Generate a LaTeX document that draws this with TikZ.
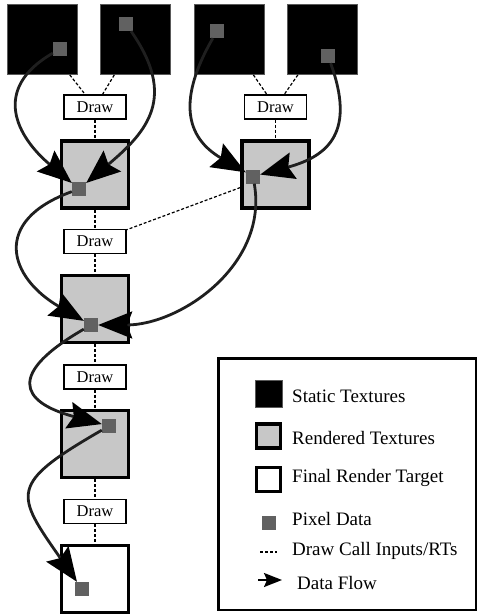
\documentclass[tikz,border=0pt]{standalone}
\usepackage{fontspec}
\setmainfont{Liberation Serif}
\usetikzlibrary{arrows.meta}

\begin{document}
\begin{tikzpicture}[x=1pt,y=-1pt,
        static/.style={draw=black!65,fill=black,line width=0.8pt,minimum size=70pt,inner sep=0pt},
        rendered/.style={draw=black,fill=black!22,line width=3.5pt,minimum size=67pt,inner sep=0pt},
        final/.style={draw=black,fill=white,line width=3.5pt,minimum size=67pt,inner sep=0pt},
        pixel/.style={fill=black!62,minimum size=14pt,inner sep=0pt},
        drawcall/.style={draw=black,fill=white,line width=1.3pt,minimum width=62pt,minimum height=24pt,inner sep=0pt,font=\fontsize{16.5}{18}\selectfont},
        rt/.style={dash pattern=on 3pt off 2pt,line width=1.2pt},
        flow/.style={line width=2.8pt,draw=black!88,-{Stealth[length=34pt,width=27pt,inset=5pt,color=black]}},
        legendtext/.style={anchor=west,inner sep=0pt,font=\fontsize{19}{21}\selectfont}]
    \useasboundingbox (0,0) rectangle (480,615);
    \node[static] (s1) at (42,39.5) {};
    \node[static] (s2) at (135.5,39.5) {};
    \node[static] (s3) at (229,39.5) {};
    \node[static] (s4) at (322.5,39.5) {};
    \node[drawcall] (d1) at (95,107) {Draw};
    \node[drawcall] (d2) at (275.5,107) {Draw};
    \node[rendered] (r1) at (95,174.5) {};
    \node[rendered] (r2) at (275.5,174.5) {};
    \node[drawcall] (d3) at (95,241.5) {Draw};
    \node[rendered] (r3) at (95,309) {};
    \node[drawcall] (d4) at (95,377) {Draw};
    \node[rendered] (r4) at (95,444) {};
    \node[drawcall] (d5) at (95,511.5) {Draw};
    \node[final] (f) at (95,579) {};
    \draw[rt] (s1) -- (d1);
    \draw[rt] (s2) -- (d1);
    \draw[rt] (d1) -- (r1);
    \draw[rt] (s3) -- (d2);
    \draw[rt] (s4) -- (d2);
    \draw[rt] (d2) -- (r2);
    \draw[rt] (r1) -- (d3);
    \draw[rt] (r2) -- (d3);
    \draw[rt] (d3) -- (r3);
    \draw[rt] (r3) -- (d4);
    \draw[rt] (d4) -- (r4);
    \draw[rt] (r4) -- (d5);
    \draw[rt] (d5) -- (f);
    \node[pixel] (p1) at (60,49) {};
    \node[pixel] (p2) at (126,24) {};
    \node[pixel] (p3) at (217,31) {};
    \node[pixel] (p4) at (328,56) {};
    \node[pixel] (q1) at (79,189) {};
    \node[pixel] (q2) at (253,176.5) {};
    \node[pixel] (q3) at (91,325) {};
    \node[pixel] (q4) at (109,426) {};
    \node[pixel] (q5) at (82,589) {};
    \draw[flow] (p1) to[out=210,in=140,looseness=1.4] (q1);
    \draw[flow] (p2) to[out=-55,in=40,looseness=1.3] (q1);
    \draw[flow] (p3) to[out=240,in=150,looseness=1.3] (q2);
    \draw[flow] (p4) to[out=-70,in=15,looseness=1.4] (q2);
    \draw[flow] (q1) to[out=200,in=150,looseness=1.7] (q3);
    \draw[flow] (q2) to[out=-80,in=0] (q3);
    \draw[flow] (q3) to[out=210,in=165,looseness=2.3] (q4);
    \draw[flow] (q4) to[out=210,in=125,looseness=1.8] (q5);

    \node[draw=black,line width=2.5pt,minimum width=257.5pt,minimum height=251.5pt,inner sep=0pt] (legend) at (347,484) {};
    \node[static,minimum size=27pt] (ls) at (268.5,394) {};
    \node[rendered,minimum size=24pt] (lr) at (268.5,436) {};
    \node[final,minimum size=24pt] (lf) at (268.5,479.5) {};
    \node[pixel] (lp) at (268.5,523) {};
    \coordinate (la) at (260,552);
    \coordinate (lb) at (277,552);
    \coordinate (lc) at (258,580);
    \coordinate (ld) at (282,580);
    \draw[rt] (la) -- (lb);
    \draw[line width=2pt,-{Stealth[length=18pt,width=14pt,inset=3pt]}] (lc) -- (ld);
    \node[legendtext] at (292,396) {Static Textures};
    \node[legendtext] at (292,438) {Rendered Textures};
    \node[legendtext] at (292,478) {Final Render Target};
    \node[legendtext] at (292,519) {Pixel Data};
    \node[legendtext] at (292,551) {Draw Call Inputs/RTs};
    \node[legendtext] at (297,583) {Data Flow};
\end{tikzpicture}
\end{document}
